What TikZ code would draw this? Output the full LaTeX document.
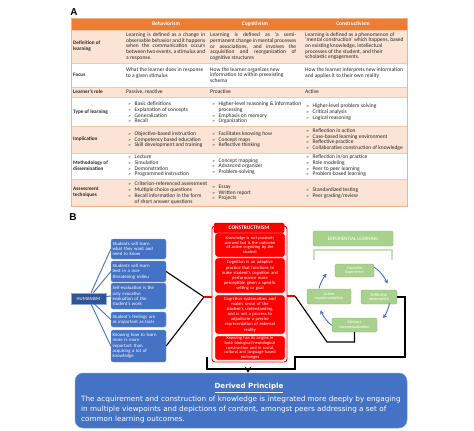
\documentclass[tikz,border=0pt]{standalone}
\usepackage{fontspec}
\setmainfont{Carlito}
\newfontfamily\dejavu{DejaVu Sans}
\newfontfamily\arialf{Liberation Sans}
\usetikzlibrary{arrows.meta}
\definecolor{orng}{HTML}{ED7D31}
\definecolor{pinkr}{HTML}{FBE4D5}
\definecolor{orline}{HTML}{F4B183}
\definecolor{hblue}{HTML}{4472C4}
\definecolor{dblue}{HTML}{2F5597}
\definecolor{cred}{HTML}{FF0000}
\definecolor{dred}{HTML}{C00000}
\definecolor{egreen}{HTML}{A9D18E}
\definecolor{egline}{HTML}{8CB96E}
\definecolor{lgreen}{HTML}{C5E0B4}
\newcommand\bul{{\dejavu\fontsize{3.8}{4}\selectfont ➢}}
\newcommand\itm[1]{\makebox[6.5pt][l]{\bul}#1}
\newcommand\cnt{\hspace*{6.5pt}}
\newcommand\js[2]{\makebox[#1pt][s]{#2}}
\begin{document}
\begin{tikzpicture}[x=1pt,y=-1pt,
  every node/.style={inner sep=0pt},
  tcell/.style={anchor=west, align=left, font=\fontsize{5.5}{5.7}\selectfont, text=black!85},
  tlab/.style={anchor=west, align=left, font=\bfseries\fontsize{5.2}{5.8}\selectfont, text=black!85},
  thead/.style={text=white, font=\bfseries\fontsize{5.4}{6}\selectfont},
  hbox/.style={fill=hblue, draw=hblue!70!white, line width=0.3pt, rounded corners=2pt, text=white, align=left,
     font=\fontsize{4.8}{5.3}\selectfont, text width=52pt, inner xsep=1.5pt},
  cbox/.style={fill=cred, draw=white, line width=0.4pt, rounded corners=2.5pt, text=white, align=center,
     font=\fontsize{4.6}{5.1}\selectfont, text width=70pt},
  cboxs/.style={cbox, font=\fontsize{4.4}{4.7}\selectfont},
  ebox/.style={fill=egreen, draw=egline, line width=0.4pt, rounded corners=1.5pt, text=white, align=center,
     font=\fontsize{4.2}{4.7}\selectfont},
  hline/.style={draw=hblue, line width=0.9pt},
  bline/.style={draw=black, line width=1.1pt},
  rline/.style={draw=cred, line width=1.1pt},
  carr/.style={draw=hblue, line width=0.9pt, -{Stealth[length=4pt,width=4pt]}},
  lbl/.style={font=\arialf\bfseries\fontsize{10}{12}\selectfont}
]
\useasboundingbox (0,0) rectangle (474,431);
\fill[white] (0,0) rectangle (474,431);

% ---------------- A: table ----------------
\node[lbl] (la) at (74,12) {A};
\fill[orng] (71,18) rectangle (407,30);
\fill[pinkr] (71,30) rectangle (407,63);
\fill[pinkr] (71,87) rectangle (407,97);
\fill[pinkr] (71,126) rectangle (407,153);
\fill[pinkr] (71,179) rectangle (407,206);
\foreach \yy in {30,63,87,97,126,153,179} \draw[orline!70, line width=0.4pt] (71,\yy) -- (407,\yy);
\draw[orline, line width=0.6pt] (71,18) rectangle (407,206);

\node[thead] (h1) at (166,24) {Behaviorism};
\node[thead] (h2) at (255,24) {Cognitivism};
\node[thead] (h3) at (353,24) {Constructivism};

\node[tlab] (l1) at (73,46.5) {Definition of\\learning};
\node[tlab] (l2) at (73,75) {Focus};
\node[tlab] (l3) at (73,92) {Learner's role};
\node[tlab] (l4) at (73,112) {Type of learning};
\node[tlab] (l5) at (73,139.5) {Implication};
\node[tlab] (l6) at (73,166) {Methodology of\\dissemination};
\node[tlab] (l7) at (73,192.5) {Assessment\\techniques};

\node[tcell] (b11) at (126,46.5) {\js{79}{Learning is defined as a change in}\\\js{79}{observable behavior and it happens}\\\js{79}{when the communication occurs}\\\js{79}{between two events, a stimulus and}\\a response.};
\node[tcell] (c11) at (210,46.5) {\js{86}{Learning is defined as `a semi-}\\\js{86}{permanent change in mental processes}\\\js{86}{or associations, and involves the}\\\js{86}{acquisition and reorganization of}\\cognitive structures};
\node[tcell] (k11) at (305,46) {Learning is defined as a phenomenon of\\`mental construction' which happens, based\\on existing knowledge, intellectual\\processes of the student, and their\\scholastic engagements.};

\node[tcell] (b12) at (126,73) {What the learner does in response\\to a given stimulus};
\node[tcell] (c12) at (210,75) {How the learner organizes new\\information to within preexisting\\schema};
\node[tcell] (k12) at (305,73) {How the learner interprets new information\\and applies it to their own reality};

\node[tcell] (b13) at (126,92) {Passive, reactive};
\node[tcell] (c13) at (210,92) {Proactive};
\node[tcell] (k13) at (305,92) {Active};

\node[tcell] (b14) at (128,112.5) {\itm{Basic definitions}\\\itm{Explanation of concepts}\\\itm{Generalization}\\\itm{Recall}};
\node[tcell] (c14) at (212,113) {\itm{Higher-level reasoning \& information}\\\cnt processing\\\itm{Emphasis on memory}\\\itm{Organization}};
\node[tcell] (k14) at (306,112) {\itm{Higher-level problem solving}\\\itm{Critical analysis}\\\itm{Logical reasoning}};

\node[tcell] (b15) at (128,139.7) {\itm{Objective-based instruction}\\\itm{Competency based education}\\\itm{Skill development and training}};
\node[tcell] (c15) at (212,139.7) {\itm{Facilitates knowing how}\\\itm{Concept maps}\\\itm{Reflective thinking}};
\node[tcell] (k15) at (306,139.5) {\itm{Reflection in action}\\\itm{Case-based learning environment}\\\itm{Reflective practice}\\\itm{Collaborative construction of knowledge}};

\node[tcell] (b16) at (128,166) {\itm{Lecture}\\\itm{Simulation}\\\itm{Demonstration}\\\itm{Programmed instruction}};
\node[tcell] (c16) at (212,166.5) {\itm{Concept mapping}\\\itm{Advanced organizer}\\\itm{Problem-solving}};
\node[tcell] (k16) at (306,166) {\itm{Reflection in/on practice}\\\itm{Role modeling}\\\itm{Peer to peer learning}\\\itm{Problem-based learning}};

\node[tcell] (b17) at (128,193) {\itm{Criterion-referenced assessment}\\\itm{Multiple choice questions}\\\itm{Recall information in the form}\\\cnt of short answer questions};
\node[tcell] (c17) at (212,193) {\itm{Essay}\\\itm{Written report}\\\itm{Projects}};
\node[tcell] (k17) at (306,193) {\itm{Standardized testing}\\\itm{Peer grading/review}};

% ---------------- B ----------------
\node[lbl] (lb) at (73,217) {B};

% Humanism
\node[fill=dblue, draw=hblue!60!white, line width=0.3pt, text=white, font=\fontsize{4.8}{5}\selectfont,
      minimum width=35pt, minimum height=11pt] (hum) at (88.5,298.5) {HUMANISM};
\node[hbox, minimum height=20pt] (hb1) at (138.5,249) {Students will learn\\what they want and\\need to know};
\node[hbox, minimum height=21pt] (hb2) at (138.5,271.5) {Students will learn\\best in a non-\\threatening milieu};
\node[hbox, minimum height=26pt] (hb3) at (138.5,296) {Self-evaluation is the\\only evocative\\evaluation of the\\student's work};
\node[hbox, minimum height=15pt] (hb4) at (138.5,319.5) {Student's feelings are\\as important as facts};
\node[hbox, minimum height=32pt] (hb5) at (138.5,346) {Knowing how to learn\\more is more\\important than\\acquiring a lot of\\knowledge};
\foreach \b in {hb1,hb2,hb3,hb4,hb5} \draw[hline] (hum) -- (\b.west);

% Constructivism
\node[draw=cred, line width=0.9pt, rounded corners=3pt, minimum width=75pt, minimum height=136pt] (cfr) at (249.5,294) {};
\node[fill=cred, draw=dred, line width=0.5pt, rounded corners=1.5pt, text=white, font=\bfseries\fontsize{5.4}{6}\selectfont,
      minimum width=70pt, minimum height=10pt] (chd) at (249,228) {CONSTRUCTIVISM};
\node[cboxs, minimum height=24pt] (cb1) at (250,245) {Knowledge is not passively\\accrued but is the outcome\\of active cognizing by the\\student};
\node[cbox, minimum height=35pt] (cb2) at (250,275.5) {Cognition is an adaptive\\practice that functions to\\make student's cognition and\\performance more\\perceptible given a specific\\setting or goal};
\node[cbox, minimum height=39pt] (cb3) at (250,314.5) {Cognition systematizes and\\makes sense of the\\student's understanding,\\and is not a process to\\adjudicate a precise\\representation of external\\reality};
\node[cboxs, minimum height=24pt] (cb4) at (250,348) {Knowing has its origins in\\both biological/neurological\\construction and in social,\\cultural and language-based\\exchanges};

\coordinate (jl) at (204,297);
\coordinate (jr) at (295,296);
\draw[bline] (hb2.east) -- (jl);
\draw[bline] (hb5.east) -- (jl);
\draw[rline] (jl) -- (cfr.west |- jl);
\draw[rline] (cfr.east |- jr) -- (jr);

% Experiential learning
\node[fill=egreen, draw=egline, line width=0.4pt, rounded corners=1.5pt, text=white, font=\fontsize{5}{5.5}\selectfont,
      minimum width=80pt, minimum height=15pt] (eh) at (353,238.5) {EXPERIENTIAL LEARNING};
\draw[lgreen, line width=1.2pt] (314,260) -- (314,250) -- (392,250) -- (392,260);
\node[ebox, minimum width=39pt, minimum height=13pt] (econ) at (354.5,270.5) {Concrete\\Experience};
\node[ebox, minimum width=44pt, minimum height=15pt] (eact) at (329,296.5) {Active\\experimentation};
\node[ebox, minimum width=36pt, minimum height=14pt] (eref) at (379,297) {Reflective\\observation};
\node[ebox, minimum width=45pt, minimum height=14pt] (eabs) at (354.5,325) {Abstract\\conceptualization};
\draw[carr] plot[domain=-56:-22, samples=20, smooth] ({354+36*cos(\x)},{297+36*sin(\x)});
\draw[carr] plot[domain=10:36, samples=20, smooth] ({354+36*cos(\x)},{297+36*sin(\x)});
\draw[carr] plot[domain=128:158, samples=20, smooth] ({354+36*cos(\x)},{297+36*sin(\x)});
\draw[carr] plot[domain=194:220, samples=20, smooth] ({354+36*cos(\x)},{297+36*sin(\x)});

\coordinate (k1) at (327,342);
\draw[bline] (jr) -- (k1) -| (eabs.south);

% bracket and links
\coordinate (bl) at (207,357);
\coordinate (br) at (295,357);
\coordinate (bm) at (248,369);
\draw[bline] (bl) -- (207,369) -- (295,369) -- (br) -- (405,357) |- (eref.east);

% Derived principle
\node[fill=hblue, draw=hblue!70!white, line width=0.5pt, rounded corners=8pt, minimum width=332pt, minimum height=55pt] (dp) at (241,400.5) {};
\draw[black, line width=1.3pt, -{Stealth[length=6pt,width=7pt]}] (bm) -- (dp.north -| bm);
\node[text=white, font=\dejavu\bfseries\fontsize{7.1}{8}\selectfont] (dpt) at (249,388) {\underline{Derived Principle}};
\node[text=white, anchor=west, align=left, font=\dejavu\fontsize{7.25}{9.6}\selectfont] (dpb) at (81,409.5)
  {The acquirement and construction of knowledge is integrated more deeply by engaging\\in multiple viewpoints and depictions of content, amongst peers addressing a set of\\common learning outcomes.};
\end{tikzpicture}
\end{document}
